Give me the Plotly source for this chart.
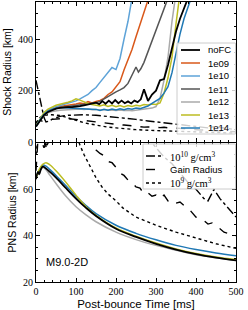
import plotly.graph_objects as go

# ---------------- data ----------------
labels = ["noFC", "1e09", "1e10", "1e11", "1e12", "1e13", "1e14"]
colors = ["#000000", "#d9581a", "#5ea3d8", "#555555", "#aaaaaa", "#bcbd22", "#1f78b4"]

# Shock radius [km] vs post-bounce time [ms]
t_shock_noFC = [0, 10, 20, 30, 40, 50, 60, 70, 80, 90, 100, 110, 120, 130, 140, 150, 158, 166, 174, 182, 190, 198,
                206, 214, 222, 230, 238, 246, 254, 262, 270, 280, 290, 300, 310, 320, 330, 340, 350, 360, 370, 380]
r_shock_noFC = [60, 85, 105, 117, 125, 130, 133, 135, 136, 136, 137, 140, 143, 146, 150, 153, 147, 159, 149, 161, 150,
                163, 151, 161, 151, 158, 150, 161, 155, 166, 205, 160, 185, 200, 240, 245, 300, 370, 430, 480, 520, 560]

t_shock_1e09 = [0, 10, 20, 30, 40, 50, 60, 70, 80, 90, 100, 110, 120, 130, 140, 150, 160, 170, 180, 190, 200, 210,
                220, 230, 240, 250, 260, 270, 280, 290]
r_shock_1e09 = [62, 88, 110, 122, 130, 135, 138, 140, 142, 145, 148, 152, 149, 157, 152, 158, 162, 170, 185, 195, 215,
                235, 280, 320, 360, 410, 455, 500, 545, 600]

t_shock_1e10 = [0, 10, 20, 30, 40, 50, 60, 70, 80, 90, 100, 110, 120, 130, 140, 150, 160, 170, 180, 190, 200, 210,
                220, 230, 240]
r_shock_1e10 = [62, 90, 112, 125, 132, 137, 142, 146, 150, 155, 160, 168, 176, 185, 200, 212, 232, 250, 272, 290, 282,
                325, 400, 470, 560]

t_shock_1e11 = [0, 10, 20, 30, 40, 50, 60, 70, 80, 90, 100, 110, 120, 130, 140, 150, 160, 170, 180, 190, 200, 210,
                220, 230, 240, 250, 256, 262, 270, 280, 290, 300, 310, 320, 330]
r_shock_1e11 = [60, 86, 107, 119, 126, 131, 134, 136, 138, 140, 142, 145, 147, 149, 151, 153, 158, 168, 176, 185, 195,
                203, 212, 228, 262, 292, 272, 285, 310, 350, 390, 430, 470, 515, 560]

t_shock_1e12 = [0, 10, 20, 30, 40, 50, 60, 70, 80, 90, 100, 110, 120, 130, 140, 150, 160, 170, 180, 190, 200, 210,
                220, 230, 240, 250, 260, 270, 280, 290, 300, 310, 320, 330, 340, 350]
r_shock_1e12 = [60, 85, 104, 114, 119, 122, 124, 125, 126, 127, 127, 128, 127, 128, 126, 127, 125, 126, 124, 125, 123,
                125, 123, 124, 122, 124, 125, 127, 128, 132, 138, 170, 240, 330, 470, 580]

t_shock_1e13 = [0, 10, 20, 30, 40, 50, 60, 70, 80, 90, 100, 110, 120, 130, 140, 150, 160, 170, 180, 190, 200, 210,
                220, 230, 240, 250, 260, 270, 280, 290, 300, 310, 320, 330, 340, 350, 360]
r_shock_1e13 = [62, 90, 115, 128, 137, 143, 147, 150, 155, 160, 168, 163, 155, 150, 146, 143, 140, 145, 138, 143, 137,
                142, 136, 142, 138, 143, 140, 146, 144, 148, 146, 152, 190, 250, 330, 460, 580]

t_shock_1e14 = [0, 10, 20, 30, 40, 50, 60, 70, 80, 90, 100, 110, 120, 130, 140, 150, 160, 170, 180, 190, 200, 210,
                220, 230, 240, 250, 260, 270, 280, 290, 300, 310, 320, 330, 340, 350, 360, 370, 380, 390]
r_shock_1e14 = [60, 87, 108, 120, 127, 131, 133, 133, 132, 131, 130, 129, 128, 127, 126, 127, 123, 127, 124, 128, 125,
                129, 126, 130, 128, 132, 130, 135, 140, 150, 160, 170, 190, 215, 270, 350, 420, 480, 530, 570]

# PNS radius [km]
t_pns = [0, 5, 8, 12, 17, 25, 35, 50, 75, 100, 125, 150, 200, 250, 300, 350, 400, 450, 500]
r_pns_noFC = [64.5, 67.5, 66.5, 68.5, 69.8, 69.0, 67.5, 65.0, 60.5, 56.0, 52.0, 48.5, 43.0, 39.5, 36.5, 34.0, 32.0,
              30.5, 29.3]
r_pns_1e12 = [64.0, 67.0, 67.5, 68.5, 69.5, 68.5, 66.0, 62.5, 57.0, 52.5, 49.0, 46.0, 41.5, 38.3, 35.8, 33.7, 31.8,
              30.5, 29.3]
r_pns_1e13 = [64.5, 67.5, 68.5, 69.8, 70.8, 71.5, 70.5, 68.0, 63.0, 57.5, 52.5, 48.8, 43.3, 39.8, 36.8, 34.3, 32.3,
              30.8, 29.7]
r_pns_1e14 = [64.5, 67.5, 68.0, 69.5, 70.5, 70.0, 68.5, 66.0, 61.5, 57.0, 53.0, 49.5, 44.5, 41.0, 38.2, 35.8, 34.0,
              32.5, 31.3]

# Characteristic radii [km] (black lines)
t_rho10 = [0, 5, 10, 15, 20, 25, 30, 40, 50, 60, 80, 100, 120, 150, 180, 200, 220, 250, 280, 300, 320, 340, 360, 380,
           400, 420, 430, 445, 460, 480, 500]
r_rho10 = [240, 200, 160, 120, 95, 78, 80, 88, 95, 100, 104, 106, 106, 104, 100, 97, 93, 88, 82, 78, 74, 71, 67, 63,
           60, 56, 55, 60, 56, 52, 48]

t_gain = [0, 5, 10, 15, 20, 25, 30, 40, 50, 60, 70, 80, 90, 100, 110, 120, 130, 140, 150, 160, 170, 180, 190, 200, 210,
          220, 230, 240, 250, 260, 270, 280, 290, 300, 310, 320, 330, 340, 350, 360, 370, 380, 390, 400, 410, 420, 430,
          440, 450, 460, 470, 480, 490, 500]
r_gain = [68, 82, 85, 80, 78, 80, 84, 88, 90, 91, 92, 91, 90, 88, 86, 84, 82, 79, 77, 75.5, 74.5, 72, 71.5, 69.5, 67,
          66, 64, 63, 61, 60.5, 58, 58.5, 57, 57.5, 56, 57.5, 55, 55.5, 54, 54.5, 53, 52, 50, 48, 47, 46.5, 45, 45.5,
          44, 43, 41.5, 41, 40, 40]

t_rho9 = [0, 10, 20, 30, 40, 50, 60, 70, 80, 90, 100, 110, 120, 135, 150, 165, 180, 200, 217, 250, 300, 350, 400, 450,
          500]
r_rho9 = [75, 95, 103, 106, 106, 105, 103, 99, 94, 89, 84, 79, 75, 70, 65, 61, 58, 55, 52, 48, 44.5, 41.5, 39, 36.5,
          34.5]

ref_labels = ["10<sup>10</sup> g/cm<sup>3</sup>", "Gain Radius", "10<sup>9</sup> g/cm<sup>3</sup>"]
ref_dashes = ["dashdot", "dash", "dot"]

model_label = "M9.0-2D"

# ---------------- figure ----------------
SANS = "Liberation Sans"
SERIF = "Liberation Serif"

fig = go.Figure()

shock_t = [t_shock_noFC, t_shock_1e09, t_shock_1e10, t_shock_1e11, t_shock_1e12, t_shock_1e13, t_shock_1e14]
shock_r = [r_shock_noFC, r_shock_1e09, r_shock_1e10, r_shock_1e11, r_shock_1e12, r_shock_1e13, r_shock_1e14]

ref_t = [t_rho10, t_gain, t_rho9]
ref_r = [r_rho10, r_gain, r_rho9]

# black characteristic radii in both panels
for yax in ["y2", "y"]:
    for tt, rr, dsh, lab in zip(ref_t, ref_r, ref_dashes, ref_labels):
        fig.add_trace(go.Scatter(x=tt, y=rr, mode="lines", name=lab, showlegend=False,
                                 line=dict(color="black", width=1.4, dash=dsh),
                                 xaxis="x2" if yax == "y2" else "x", yaxis=yax))

# shock radii: colored first, black last
order = [1, 2, 3, 4, 5, 6, 0]
for i in order:
    fig.add_trace(go.Scatter(x=shock_t[i], y=shock_r[i], mode="lines", name=labels[i], showlegend=False,
                             line=dict(color=colors[i], width=1.8 if i == 0 else 1.5),
                             xaxis="x2", yaxis="y2"))

# PNS radii
pns = [(4, r_pns_1e12), (6, r_pns_1e14), (5, r_pns_1e13), (0, r_pns_noFC)]
for i, rr in pns:
    fig.add_trace(go.Scatter(x=t_pns, y=rr, mode="lines", name=labels[i], showlegend=False,
                             line=dict(color=colors[i], width=1.8 if i == 0 else 1.5, shape="spline"),
                             xaxis="x", yaxis="y"))

# ---------------- axes ----------------
common_x = dict(range=[0, 500], tickvals=[0, 100, 200, 300, 400, 500], ticks="inside", ticklen=4, tickwidth=0.8,
                tickcolor="black", showline=True, linecolor="black", linewidth=1, mirror="allticks",
                showgrid=False, zeroline=False,
                minor=dict(ticks="inside", ticklen=2, tickwidth=0.8, tickcolor="black", dtick=20, showgrid=False),
                tickfont=dict(family=SERIF, size=10, color="black"))
common_y = dict(ticks="inside", ticklen=4, tickwidth=0.8, tickcolor="black", showline=True, linecolor="black",
                linewidth=1, mirror="allticks", showgrid=False, zeroline=False,
                tickfont=dict(family=SERIF, size=10, color="black"))

fig.update_layout(
    width=248, height=310,
    margin=dict(l=36, r=12, t=2, b=28, autoexpand=False),
    paper_bgcolor="white", plot_bgcolor="white",
    showlegend=False,
    xaxis=dict(common_x, anchor="y", domain=[0, 1],
               title=dict(text="Post-bounce Time [ms]", font=dict(family=SANS, size=11.5, color="black"),
                          standoff=3)),
    xaxis2=dict(common_x, anchor="y2", matches="x", showticklabels=False, domain=[0, 1]),
    yaxis=dict(common_y, domain=[0, 0.4965], range=[20, 80], tickvals=[20, 40, 60],
               minor=dict(ticks="inside", ticklen=2, tickwidth=0.8, tickcolor="black", dtick=5, showgrid=False),
               title=dict(text="PNS Radius [km]", font=dict(family=SANS, size=10.5, color="black"), standoff=4)),
    yaxis2=dict(common_y, domain=[0.5, 1], range=[0, 545], tickvals=[0, 200, 400],
                minor=dict(ticks="inside", ticklen=2, tickwidth=0.8, tickcolor="black", dtick=50, showgrid=False),
                title=dict(text="Shock Radius [km]", font=dict(family=SANS, size=10.5, color="black"), standoff=4)),
)

# ---------------- legends (compact, matplotlib-like) ----------------
L, R, T, B = 36, 236, 2, 282


def px(x):
    return (x - L) / (R - L)


def py(y):
    return (B - y) / (B - T)


shapes = []
annos = []

# legend 1 (top panel)
shapes.append(dict(type="rect", xref="paper", yref="paper", x0=px(177), x1=px(235.5), y0=py(134), y1=py(43),
                   fillcolor="rgba(255,255,255,0.8)", line=dict(color="#cccccc", width=1), layer="above"))
for k, i in enumerate(range(7)):
    yy = 50 + k * 13
    shapes.append(dict(type="line", xref="paper", yref="paper", x0=px(181), x1=px(200), y0=py(yy), y1=py(yy),
                       line=dict(color=colors[i], width=1.8 if i == 0 else 1.5), layer="above"))
    annos.append(dict(xref="paper", yref="paper", x=px(206), y=py(yy), text=labels[i], showarrow=False,
                      xanchor="left", yanchor="middle", font=dict(family=SANS, size=9.5, color="black")))

# legend 2 (bottom panel)
shapes.append(dict(type="rect", xref="paper", yref="paper", x0=px(143), x1=px(235.5), y0=py(189), y1=py(144),
                   fillcolor="rgba(255,255,255,0.8)", line=dict(color="#cccccc", width=1), layer="above"))
for k in range(3):
    yy = 156 + k * 13.5
    shapes.append(dict(type="line", xref="paper", yref="paper", x0=px(146), x1=px(164), y0=py(yy), y1=py(yy),
                       line=dict(color="black", width=1.4, dash=ref_dashes[k]), layer="above"))
    fam = SANS if k == 1 else SERIF
    annos.append(dict(xref="paper", yref="paper", x=px(168), y=py(yy), text=ref_labels[k], showarrow=False,
                      xanchor="left", yanchor="middle", font=dict(family=fam, size=9.5 if k == 1 else 10.5,
                                                                    color="black")))

annos.append(dict(xref="x", yref="y", x=20, y=28.6, text=model_label, showarrow=False, xanchor="left",
                  yanchor="middle", font=dict(family=SANS, size=11, color="black")))

fig.update_layout(shapes=shapes, annotations=annos)

fig.write_html("out.html", config={"displayModeBar": False},
               post_script="document.body.style.margin='0px';")
